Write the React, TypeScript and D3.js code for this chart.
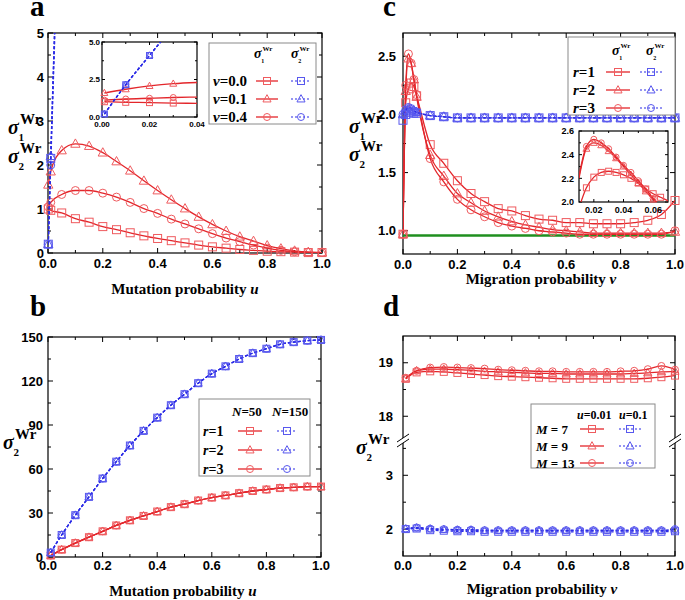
import React from 'react';
import * as d3 from 'd3';

// ================= DATA =================
// Panel a (mutation probability u)
const aU = [0.001, 0.01, 0.05, 0.1, 0.15, 0.2, 0.25, 0.3, 0.35, 0.4, 0.45, 0.5, 0.55, 0.6, 0.65, 0.7, 0.75, 0.8, 0.85, 0.9, 0.95, 1.0];
const aS1v00 = [1.0, 0.97, 0.91, 0.78, 0.7, 0.6, 0.53, 0.46, 0.39, 0.33, 0.28, 0.23, 0.18, 0.14, 0.11, 0.08, 0.06, 0.04, 0.03, 0.02, 0.01, 0.01];
const aS1v01 = [1.55, 1.85, 2.33, 2.48, 2.43, 2.28, 2.08, 1.87, 1.64, 1.42, 1.21, 1.01, 0.82, 0.65, 0.5, 0.37, 0.27, 0.17, 0.1, 0.05, 0.02, 0.01];
const aS1v04 = [1.05, 1.15, 1.33, 1.42, 1.42, 1.36, 1.27, 1.15, 1.01, 0.9, 0.77, 0.66, 0.55, 0.44, 0.34, 0.26, 0.18, 0.11, 0.06, 0.03, 0.02, 0.01];
const aBlueU = [0.001, 0.01, 0.05];
const aS2v00 = [0.2, 2.15, 9.9];
const aS2v01 = [0.2, 2.2, 9.95];
const aS2v04 = [0.2, 2.0, 9.8];
const aInsetU = [0.001, 0.01, 0.02, 0.03, 0.04];
const aInS1v00 = [1.02, 0.98, 0.96, 0.93, 0.91];
const aInS1v01 = [1.6, 1.85, 2.07, 2.22, 2.3];
const aInS1v04 = [1.12, 1.2, 1.25, 1.3, 1.33];
const aInBlueU = [0.001, 0.01, 0.02, 0.03];
const aInS2 = [0.2, 2.15, 4.1, 6.05];
const aLegendVals = ['0.0', '0.1', '0.4'];

// Panel b
const bU = [0.01, 0.05, 0.1, 0.15, 0.2, 0.25, 0.3, 0.35, 0.4, 0.45, 0.5, 0.55, 0.6, 0.65, 0.7, 0.75, 0.8, 0.85, 0.9, 0.95, 1.0];
const bN150 = [3, 15, 28.5, 41, 53.5, 65, 76, 86, 95, 103.5, 111, 118.5, 125, 130, 135, 139, 142, 145, 146.5, 147.5, 148];
const bN50 = [1, 5, 9.5, 13.5, 17.5, 21.5, 25, 28, 31, 34, 36, 38.5, 40.5, 42, 43.5, 45, 46, 47, 47.5, 48, 48];
const bLegendVals = ['1', '2', '3'];

// Panel c (migration probability v)
const cV = [0, 0.01, 0.02, 0.03, 0.04, 0.05, 0.1, 0.15, 0.2, 0.25, 0.3, 0.35, 0.4, 0.45, 0.5, 0.55, 0.6, 0.65, 0.7, 0.75, 0.8, 0.85, 0.9, 0.95, 1.0];
const cS1r1 = [0.97, 2.1, 2.22, 2.27, 2.24, 2.16, 1.74, 1.58, 1.43, 1.32, 1.25, 1.19, 1.17, 1.13, 1.1, 1.09, 1.07, 1.07, 1.06, 1.06, 1.06, 1.07, 1.09, 1.14, 1.26];
const cS1r2 = [0.97, 2.2, 2.48, 2.44, 2.3, 2.15, 1.65, 1.47, 1.32, 1.24, 1.17, 1.12, 1.08, 1.05, 1.03, 1.01, 1.0, 0.99, 0.98, 0.98, 0.98, 0.98, 0.98, 0.98, 0.99];
const cS1r3 = [0.97, 2.25, 2.52, 2.44, 2.3, 2.17, 1.62, 1.42, 1.27, 1.18, 1.12, 1.07, 1.04, 1.02, 1.0, 0.99, 0.98, 0.97, 0.97, 0.97, 0.97, 0.97, 0.97, 0.97, 1.0];
const cS2r1 = [1.95, 2.0, 2.02, 2.02, 2.01, 2.01, 1.99, 1.98, 1.97, 1.97, 1.97, 1.97, 1.97, 1.97, 1.97, 1.97, 1.97, 1.97, 1.97, 1.97, 1.97, 1.97, 1.97, 1.97, 1.97];
const cS2r2 = [2.0, 2.03, 2.05, 2.04, 2.03, 2.02, 1.99, 1.98, 1.97, 1.97, 1.97, 1.97, 1.97, 1.97, 1.97, 1.97, 1.97, 1.97, 1.97, 1.97, 1.97, 1.97, 1.97, 1.97, 1.97];
const cS2r3 = [2.0, 2.04, 2.06, 2.05, 2.03, 2.02, 1.99, 1.98, 1.97, 1.97, 1.97, 1.97, 1.97, 1.97, 1.97, 1.97, 1.97, 1.97, 1.97, 1.97, 1.97, 1.97, 1.97, 1.97, 1.97];
const cGreenV = [0, 1];
const cGreen = [0.96, 0.96];
const cInV = [0.01, 0.015, 0.02, 0.025, 0.03, 0.035, 0.04, 0.045, 0.05, 0.055, 0.06, 0.065, 0.07];
const cInR1 = [1.95, 2.12, 2.21, 2.25, 2.26, 2.25, 2.23, 2.2, 2.16, 2.11, 2.07, 2.04, 2.01];
const cInR2 = [2.2, 2.45, 2.5, 2.48, 2.43, 2.37, 2.3, 2.23, 2.16, 2.09, 2.02, 1.96, 1.9];
const cInR3 = [2.22, 2.47, 2.53, 2.5, 2.45, 2.38, 2.31, 2.25, 2.18, 2.11, 2.03, 1.97, 1.9];
const cLegendVals = ['1', '2', '3'];

// Panel d
const dV = [0.01, 0.05, 0.1, 0.15, 0.2, 0.25, 0.3, 0.35, 0.4, 0.45, 0.5, 0.55, 0.6, 0.65, 0.7, 0.75, 0.8, 0.85, 0.9, 0.95, 1.0];
const dM7a = [18.7, 18.82, 18.84, 18.83, 18.81, 18.79, 18.77, 18.75, 18.74, 18.73, 18.72, 18.71, 18.7, 18.7, 18.7, 18.7, 18.7, 18.7, 18.71, 18.73, 18.76];
const dM9a = [18.7, 18.85, 18.88, 18.88, 18.87, 18.86, 18.84, 18.83, 18.82, 18.81, 18.8, 18.8, 18.79, 18.79, 18.79, 18.79, 18.79, 18.8, 18.81, 18.83, 18.84];
const dM13a = [18.72, 18.85, 18.91, 18.92, 18.91, 18.9, 18.89, 18.87, 18.86, 18.85, 18.84, 18.84, 18.83, 18.83, 18.83, 18.83, 18.84, 18.85, 18.88, 18.94, 18.87];
const dM7b = [2.0, 2.01, 1.98, 1.97, 1.96, 1.96, 1.95, 1.95, 1.95, 1.95, 1.95, 1.95, 1.95, 1.95, 1.95, 1.95, 1.95, 1.95, 1.95, 1.95, 1.96];
const dM9b = [2.0, 2.02, 2.0, 1.99, 1.98, 1.98, 1.97, 1.97, 1.97, 1.97, 1.97, 1.97, 1.97, 1.97, 1.97, 1.97, 1.97, 1.97, 1.97, 1.97, 1.98];
const dM13b = [2.01, 2.03, 2.01, 2.0, 1.99, 1.99, 1.98, 1.98, 1.98, 1.98, 1.98, 1.98, 1.98, 1.98, 1.98, 1.98, 1.98, 1.98, 1.98, 1.98, 2.0];
const dLegendVals = ['7', '9', '13'];

// ================= STYLE =================
const RED_LINE = '#e3262b';
const RED_MARK = '#ef5b5f';
const BLUE_LINE = '#2b2be6';
const BLUE_MARK = '#5858ee';
const GREEN_LINE = '#1f8f1f';
const serif = "'Liberation Serif', 'Times New Roman', serif";
const sans = "'Liberation Sans', Arial, sans-serif";

type Shape = 'square' | 'triangle' | 'circle';
type Sc = (v: number) => number;

function Marker({ shape, x, y, color, size }: { shape: Shape; x: number; y: number; color: string; size: number }) {
  const s = size;
  if (shape === 'square') return <rect x={x - s / 2} y={y - s / 2} width={s} height={s} fill="none" stroke={color} strokeWidth={1} />;
  if (shape === 'circle') return <circle cx={x} cy={y} r={s / 2} fill="none" stroke={color} strokeWidth={1} />;
  const pts = `${x},${y - s * 0.62} ${x - s * 0.58},${y + s * 0.42} ${x + s * 0.58},${y + s * 0.42}`;
  return <polygon points={pts} fill="none" stroke={color} strokeWidth={1} />;
}

interface SeriesSpec { xs: number[]; ys: number[]; shape: Shape; blue?: boolean; }

function SeriesG({ s, x, y, clipId, size, dom, strict }: { s: SeriesSpec; x: Sc; y: Sc; clipId: string; size: number; dom: [number, number, number, number]; strict?: boolean }) {
  const pts: [number, number][] = s.xs.map((v, i) => [v, s.ys[i]]);
  const line = d3.line<[number, number]>().x(d => x(d[0])).y(d => y(d[1])).curve(d3.curveMonotoneX);
  const [x0, x1, y0, y1] = dom;
  const inside = (p: [number, number]) => strict
    ? p[0] > x0 + 1e-9 && p[0] < x1 - 1e-9 && p[1] >= y0 && p[1] <= y1
    : p[0] >= x0 && p[0] <= x1 && p[1] >= y0 && p[1] <= y1;
  return (
    <g>
      <path d={line(pts) || ''} fill="none" stroke={s.blue ? BLUE_LINE : RED_LINE} strokeWidth={1.3}
        strokeDasharray={s.blue ? '3,2' : undefined} clipPath={`url(#${clipId})`} />
      {pts.filter(inside).map((p, i) => (
        <Marker key={i} shape={s.shape} x={x(p[0])} y={y(p[1])} color={s.blue ? BLUE_MARK : RED_MARK} size={size} />
      ))}
    </g>
  );
}

interface FrameProps {
  left: number; right: number; top: number; bottom: number; x: Sc; y: Sc;
  xMajor: number[]; xMinor: number[]; yMajor: number[]; yMinor: number[];
  xFmt: (v: number) => string; yFmt: (v: number) => string;
  fs: number; maj: number; mnr: number; yLabelEnd: number; xLabelBase: number; fill?: string;
}

function Frame(p: FrameProps) {
  const ticks: JSX.Element[] = [];
  let k = 0;
  const addX = (v: number, len: number) => {
    const px = p.x(v);
    ticks.push(<line key={k++} x1={px} x2={px} y1={p.bottom} y2={p.bottom - len} />);
    ticks.push(<line key={k++} x1={px} x2={px} y1={p.top} y2={p.top + len} />);
  };
  const addY = (v: number, len: number) => {
    const py = p.y(v);
    ticks.push(<line key={k++} x1={p.left} x2={p.left + len} y1={py} y2={py} />);
    ticks.push(<line key={k++} x1={p.right} x2={p.right - len} y1={py} y2={py} />);
  };
  p.xMajor.forEach(v => addX(v, p.maj));
  p.xMinor.forEach(v => addX(v, p.mnr));
  p.yMajor.forEach(v => addY(v, p.maj));
  p.yMinor.forEach(v => addY(v, p.mnr));
  return (
    <g>
      <rect x={p.left} y={p.top} width={p.right - p.left} height={p.bottom - p.top} fill={p.fill || 'none'} stroke="#000" strokeWidth={1.2} />
      <g stroke="#000" strokeWidth={1}>{ticks}</g>
      <g fontFamily={sans} fontWeight="bold" fontSize={p.fs} fill="#000">
        {p.xMajor.map((v, i) => <text key={'x' + i} x={p.x(v)} y={p.xLabelBase} textAnchor="middle">{p.xFmt(v)}</text>)}
        {p.yMajor.map((v, i) => <text key={'y' + i} x={p.yLabelEnd} y={p.y(v) + p.fs * 0.36} textAnchor="end">{p.yFmt(v)}</text>)}
      </g>
    </g>
  );
}

function Sigma({ x, y, size, sub, supSize, subSize }: { x: number; y: number; size: number; sub: string; supSize: number; subSize: number }) {
  return (
    <g fontFamily={serif} fontWeight="bold" fill="#000">
      <text x={x} y={y} fontSize={size} fontStyle="italic">σ</text>
      <text x={x + size * 0.6} y={y - size * 0.5} fontSize={supSize}>Wr</text>
      <text x={x + size * 0.52} y={y + size * 0.36} fontSize={subSize}>{sub}</text>
    </g>
  );
}

function LegendRow({ y, labelX, label, redX, blueX, shape, size, fs, lineHalfR, lineHalfB }:
  { y: number; labelX: number; label: React.ReactNode; redX: number; blueX: number; shape: Shape; size: number; fs: number; lineHalfR: number; lineHalfB: number }) {
  return (
    <g>
      <text x={labelX} y={y + fs * 0.35} fontFamily={serif} fontWeight="bold" fontSize={fs}>{label}</text>
      <line x1={redX - lineHalfR} x2={redX + lineHalfR} y1={y} y2={y} stroke={RED_LINE} strokeWidth={1.3} />
      <Marker shape={shape} x={redX} y={y} color={RED_MARK} size={size} />
      <line x1={blueX - lineHalfB} x2={blueX + lineHalfB} y1={y} y2={y} stroke={BLUE_LINE} strokeWidth={1.2} strokeDasharray="2,2" />
      <Marker shape={shape} x={blueX} y={y} color={BLUE_MARK} size={size} />
    </g>
  );
}

const shapes: Shape[] = ['square', 'triangle', 'circle'];
const f1 = d3.format('.1f');
const f2 = d3.format('.2f');
const fd = d3.format('d');

export default function App() {
  // ---------- Panel a ----------
  const xA = d3.scaleLinear().domain([0, 1]).range([48, 322]);
  const yA = d3.scaleLinear().domain([0, 5]).range([253, 33]);
  const aRed = [aS1v00, aS1v01, aS1v04];
  const aBlue = [aS2v00, aS2v01, aS2v04];
  const xAi = d3.scaleLinear().domain([0, 0.04]).range([102, 197]);
  const yAi = d3.scaleLinear().domain([0, 5]).range([117, 42]);
  const aInRed = [aInS1v00, aInS1v01, aInS1v04];

  // ---------- Panel b ----------
  const xB = d3.scaleLinear().domain([0, 1]).range([48, 321]);
  const yB = d3.scaleLinear().domain([0, 150]).range([557, 337]);

  // ---------- Panel c ----------
  const xC = d3.scaleLinear().domain([0, 1]).range([403, 675]);
  const yC = d3.scaleLinear().domain([0.8, 2.7]).range([254, 33]);
  const cRed = [cS1r1, cS1r2, cS1r3];
  const cBlue = [cS2r1, cS2r2, cS2r3];
  const xCi = d3.scaleLinear().domain([0.01, 0.07]).range([579, 668]);
  const yCi = d3.scaleLinear().domain([2.0, 2.6]).range([202, 131]);
  const cInRed = [cInR1, cInR2, cInR3];

  // ---------- Panel d ----------
  const xD = d3.scaleLinear().domain([0, 1]).range([403, 675]);
  const yDUp = d3.scaleLinear().domain([17.5, 19.5]).range([443, 336]);
  const yDLo = d3.scaleLinear().domain([1.5, 3.6]).range([556, 443]);
  const yD: Sc = v => (v > 10 ? yDUp(v) : yDLo(v));
  const dRed = [dM7a, dM9a, dM13a];
  const dBlue = [dM7b, dM9b, dM13b];

  const ticks01 = [0, 0.2, 0.4, 0.6, 0.8, 1.0];
  const minor01 = [0.1, 0.3, 0.5, 0.7, 0.9];

  const breakMark = (x: number, y: number) => (
    <g>
      <polygon points={`${x - 6},${y + 4} ${x + 6},${y - 4} ${x + 6},${y - 9} ${x - 6},${y - 1}`} fill="#fff" stroke="none" />
      <line x1={x - 6} y1={y + 4} x2={x + 6} y2={y - 4} stroke="#000" strokeWidth={1} />
      <line x1={x - 6} y1={y - 1} x2={x + 6} y2={y - 9} stroke="#000" strokeWidth={1} />
    </g>
  );

  return (
    <svg width={685} height={600} style={{ position: 'absolute', left: 0, top: 0, background: '#fff' }} xmlns="http://www.w3.org/2000/svg">
      <defs>
        <clipPath id="clipA"><rect x={48} y={33} width={274} height={220} /></clipPath>
        <clipPath id="clipAi"><rect x={102} y={42} width={95} height={75} /></clipPath>
        <clipPath id="clipB"><rect x={48} y={337} width={273} height={220} /></clipPath>
        <clipPath id="clipC"><rect x={403} y={33} width={272} height={221} /></clipPath>
        <clipPath id="clipCi"><rect x={579} y={131} width={89} height={71} /></clipPath>
        <clipPath id="clipD"><rect x={403} y={336} width={272} height={220} /></clipPath>
      </defs>
      <rect x={0} y={0} width={685} height={600} fill="#fff" />

      {/* Panel letters */}
      <g fontFamily={serif} fontWeight="bold" fontSize={29}>
        <text x={30} y={16}>a</text>
        <text x={383} y={16}>c</text>
        <text x={30} y={316}>b</text>
        <text x={383} y={316}>d</text>
      </g>

      {/* ===== Panel a ===== */}
      <Frame left={48} right={322} top={33} bottom={253} x={xA} y={yA} xMajor={ticks01} xMinor={minor01}
        yMajor={[0, 1, 2, 3, 4, 5]} yMinor={[0.5, 1.5, 2.5, 3.5, 4.5]} xFmt={f1} yFmt={fd} fs={13} maj={5} mnr={3}
        yLabelEnd={44} xLabelBase={268} />
      {aRed.map((ys, i) => <SeriesG key={'ar' + i} s={{ xs: aU, ys, shape: shapes[i] }} x={xA} y={yA} clipId="clipA" size={8} dom={[0, 1, 0, 5]} />)}
      {aBlue.map((ys, i) => <SeriesG key={'ab' + i} s={{ xs: aBlueU, ys, shape: shapes[i], blue: true }} x={xA} y={yA} clipId="clipA" size={8} dom={[0, 1, 0, 5]} />)}
      {/* inset a */}
      <Frame left={102} right={197} top={42} bottom={117} x={xAi} y={yAi} xMajor={[0, 0.02, 0.04]} xMinor={[0.01, 0.03]}
        yMajor={[0, 2.5, 5]} yMinor={[1.25, 3.75]} xFmt={f2} yFmt={f1} fs={8} maj={3} mnr={2}
        yLabelEnd={100} xLabelBase={127} fill="#fff" />
      {aInRed.map((ys, i) => <SeriesG key={'air' + i} s={{ xs: aInsetU, ys, shape: shapes[i] }} x={xAi} y={yAi} clipId="clipAi" size={6} dom={[0, 0.035, 0, 5]} />)}
      {shapes.map((sh, i) => <SeriesG key={'aib' + i} s={{ xs: aInBlueU, ys: aInS2, shape: sh, blue: true }} x={xAi} y={yAi} clipId="clipAi" size={6} dom={[0, 0.035, 0, 5]} />)}
      {/* legend a */}
      <rect x={209} y={43} width={107} height={81} fill="#fff" stroke="#8a8a8a" strokeWidth={1} />
      <Sigma x={254} y={58} size={14} sub="1" supSize={7} subSize={6} />
      <Sigma x={291} y={58} size={14} sub="2" supSize={7} subSize={6} />
      {aLegendVals.map((v, i) => (
        <LegendRow key={'la' + i} y={81 + i * 18} labelX={213} label={<><tspan fontStyle="italic">v</tspan>={v}</>}
          redX={267} blueX={301} shape={shapes[i]} size={7} fs={15} lineHalfR={11} lineHalfB={10} />
      ))}
      <Sigma x={8} y={134} size={20} sub="1" supSize={15} subSize={11} />
      <Sigma x={8} y={163} size={20} sub="2" supSize={15} subSize={11} />
      <text x={185} y={294} textAnchor="middle" fontFamily={serif} fontWeight="bold" fontSize={15}>
        Mutation probability <tspan fontStyle="italic">u</tspan>
      </text>

      {/* ===== Panel b ===== */}
      <Frame left={48} right={321} top={337} bottom={557} x={xB} y={yB} xMajor={ticks01} xMinor={minor01}
        yMajor={[0, 30, 60, 90, 120, 150]} yMinor={[15, 45, 75, 105, 135]} xFmt={f1} yFmt={fd} fs={13} maj={5} mnr={3}
        yLabelEnd={43} xLabelBase={570} />
      {shapes.map((sh, i) => <SeriesG key={'br' + i} s={{ xs: bU, ys: bN50, shape: sh }} x={xB} y={yB} clipId="clipB" size={7} dom={[0, 1, 0, 150]} />)}
      {shapes.map((sh, i) => <SeriesG key={'bb' + i} s={{ xs: bU, ys: bN150, shape: sh, blue: true }} x={xB} y={yB} clipId="clipB" size={7} dom={[0, 1, 0, 150]} />)}
      <rect x={199} y={399} width={111} height={77} fill="#fff" stroke="#8a8a8a" strokeWidth={1} />
      <text x={232} y={416} fontFamily={serif} fontWeight="bold" fontSize={13}><tspan fontStyle="italic">N</tspan>=50</text>
      <text x={272} y={416} fontFamily={serif} fontWeight="bold" fontSize={13}><tspan fontStyle="italic">N</tspan>=150</text>
      {bLegendVals.map((v, i) => (
        <LegendRow key={'lb' + i} y={431 + i * 19} labelX={203} label={<><tspan fontStyle="italic">r</tspan>={v}</>}
          redX={250} blueX={287} shape={shapes[i]} size={7} fs={14} lineHalfR={12} lineHalfB={10} />
      ))}
      <Sigma x={3} y={449} size={20} sub="2" supSize={15} subSize={11} />
      <text x={183} y={596} textAnchor="middle" fontFamily={serif} fontWeight="bold" fontSize={15}>
        Mutation probability <tspan fontStyle="italic">u</tspan>
      </text>

      {/* ===== Panel c ===== */}
      <Frame left={403} right={675} top={33} bottom={254} x={xC} y={yC} xMajor={ticks01} xMinor={minor01}
        yMajor={[1.0, 1.5, 2.0, 2.5]} yMinor={[1.25, 1.75, 2.25]} xFmt={f1} yFmt={f1} fs={13} maj={5} mnr={3}
        yLabelEnd={396} xLabelBase={269} />
      <line x1={xC(cGreenV[0])} x2={xC(cGreenV[1])} y1={yC(cGreen[0])} y2={yC(cGreen[1])} stroke={GREEN_LINE} strokeWidth={2.5} />
      {cRed.map((ys, i) => <SeriesG key={'cr' + i} s={{ xs: cV, ys, shape: shapes[i] }} x={xC} y={yC} clipId="clipC" size={8} dom={[0, 1, 0.8, 2.7]} />)}
      {cBlue.map((ys, i) => <SeriesG key={'cb' + i} s={{ xs: cV, ys, shape: shapes[i], blue: true }} x={xC} y={yC} clipId="clipC" size={8} dom={[0, 1, 0.8, 2.7]} />)}
      {/* legend c */}
      <rect x={568} y={37} width={107} height={78} fill="#fff" stroke="#8a8a8a" strokeWidth={1} />
      <Sigma x={612} y={55} size={14} sub="1" supSize={7} subSize={6} />
      <Sigma x={646} y={55} size={14} sub="2" supSize={7} subSize={6} />
      {cLegendVals.map((v, i) => (
        <LegendRow key={'lc' + i} y={72 + i * 18} labelX={573} label={<><tspan fontStyle="italic">r</tspan>={v}</>}
          redX={618} blueX={651} shape={shapes[i]} size={7} fs={15} lineHalfR={12} lineHalfB={11} />
      ))}
      {/* inset c */}
      <Frame left={579} right={668} top={131} bottom={202} x={xCi} y={yCi} xMajor={[0.02, 0.04, 0.06]} xMinor={[0.03, 0.05]}
        yMajor={[2.0, 2.2, 2.4, 2.6]} yMinor={[2.1, 2.3, 2.5]} xFmt={f2} yFmt={f1} fs={9} maj={3} mnr={2}
        yLabelEnd={574} xLabelBase={213} fill="#fff" />
      {cInRed.map((ys, i) => <SeriesG key={'cir' + i} s={{ xs: cInV, ys, shape: shapes[i] }} x={xCi} y={yCi} clipId="clipCi" size={6} dom={[0.01, 0.07, 2.0, 2.6]} strict />)}
      <Sigma x={349} y={133} size={20} sub="1" supSize={15} subSize={11} />
      <Sigma x={349} y={161} size={20} sub="2" supSize={15} subSize={11} />
      <text x={541} y={284} textAnchor="middle" fontFamily={serif} fontWeight="bold" fontSize={15}>
        Migration probability <tspan fontStyle="italic">v</tspan>
      </text>

      {/* ===== Panel d ===== */}
      <Frame left={403} right={675} top={336} bottom={556} x={xD} y={yD} xMajor={ticks01} xMinor={minor01}
        yMajor={[2, 3, 18, 19]} yMinor={[2.5, 3.5, 18.5]} xFmt={f1} yFmt={fd} fs={13} maj={5} mnr={3}
        yLabelEnd={393} xLabelBase={570} />
      {dRed.map((ys, i) => <SeriesG key={'dr' + i} s={{ xs: dV, ys, shape: shapes[i] }} x={xD} y={yD} clipId="clipD" size={7} dom={[0, 1, 17.5, 19.5]} />)}
      {dBlue.map((ys, i) => <SeriesG key={'db' + i} s={{ xs: dV, ys, shape: shapes[i], blue: true }} x={xD} y={yD} clipId="clipD" size={7} dom={[0, 1, 1.5, 3.6]} />)}
      {breakMark(403, 443)}
      {breakMark(675, 443)}
      <rect x={531} y={404} width={124} height={64} fill="#fff" stroke="#8a8a8a" strokeWidth={1} />
      <text x={577} y={419} fontFamily={serif} fontWeight="bold" fontSize={12}><tspan fontStyle="italic">u</tspan>=0.01</text>
      <text x={619} y={419} fontFamily={serif} fontWeight="bold" fontSize={12}><tspan fontStyle="italic">u</tspan>=0.1</text>
      {dLegendVals.map((v, i) => (
        <LegendRow key={'ld' + i} y={429 + i * 17} labelX={536} label={<><tspan fontStyle="italic">M</tspan> = {v}</>}
          redX={592} blueX={630} shape={shapes[i]} size={7} fs={13} lineHalfR={12} lineHalfB={11} />
      ))}
      <Sigma x={356} y={454} size={20} sub="2" supSize={15} subSize={11} />
      <text x={542} y={594} textAnchor="middle" fontFamily={serif} fontWeight="bold" fontSize={15}>
        Migration probability <tspan fontStyle="italic">v</tspan>
      </text>
    </svg>
  );
}
